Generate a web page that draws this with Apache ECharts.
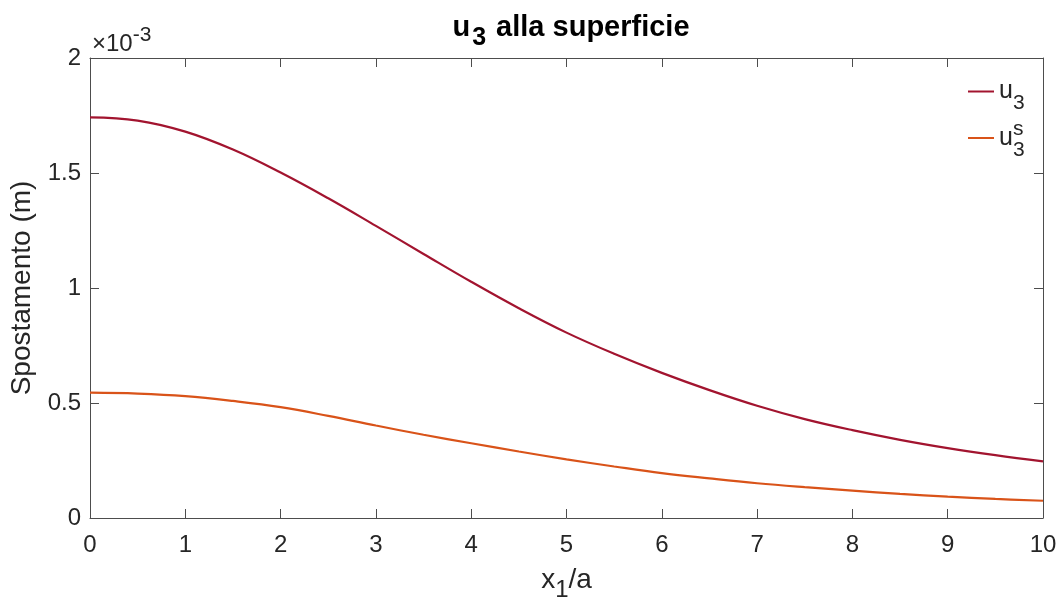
<!DOCTYPE html>
<html>
<head>
<meta charset="utf-8">
<script src="https://cdn.jsdelivr.net/npm/echarts@6/dist/echarts.min.js"></script>
<style>html,body{margin:0;padding:0;background:#fff;}#c{width:1061px;height:605px;}</style>
</head>
<body>
<div id="c"></div>
<script>
// x positions (x1/a)
var xVals = [0,0.5,1,1.5,2,2.5,3,3.5,4,4.5,5,5.5,6,6.5,7,7.5,8,8.5,9,9.5,10];
// u3 (m)
var u3 = [1.742e-3,1.728e-3,1.680e-3,1.602e-3,1.502e-3,1.390e-3,1.270e-3,1.148e-3,1.027e-3,0.912e-3,0.806e-3,0.714e-3,0.631e-3,0.556e-3,0.488e-3,0.430e-3,0.382e-3,0.340e-3,0.304e-3,0.273e-3,0.246e-3];
// u3^s (m)
var u3s = [0.545e-3,0.541e-3,0.530e-3,0.509e-3,0.482e-3,0.444e-3,0.402e-3,0.362e-3,0.325e-3,0.289e-3,0.255e-3,0.224e-3,0.195e-3,0.172e-3,0.151e-3,0.134e-3,0.119e-3,0.105e-3,0.093e-3,0.083e-3,0.075e-3];
var xTicks = [0,1,2,3,4,5,6,7,8,9,10];
var yTicks = [0,0.5e-3,1e-3,1.5e-3,2e-3];

function pairs(xs, ys){ return xs.map(function(x,i){ return [x, ys[i]]; }); }

var FONT = 'Liberation Sans, Arial, Helvetica, sans-serif';
var TXT = '#262626';
var AX = '#4d4d4d';

var chart = echarts.init(document.getElementById('c'), null, {renderer:'canvas'});
var axisCommon = {
  axisLine:{show:true, onZero:false, lineStyle:{color:AX, width:1}},
  axisTick:{show:true, inside:true, length:9, lineStyle:{color:AX, width:1}},
  splitLine:{show:false}
};
chart.setOption({
  animation:false,
  backgroundColor:'#fff',
  title:{
    text:'{u|u}{sub|3}{t| alla superficie}',
    left:566, top:-1, textAlign:'center',
    textStyle:{
      fontFamily:FONT, fontWeight:'bold', color:'#000',
      rich:{
        u:{fontFamily:FONT, fontWeight:'bold', fontSize:29, color:'#000'},
        t:{fontFamily:FONT, fontWeight:'bold', fontSize:29, color:'#000'},
        sub:{fontFamily:FONT, fontWeight:'bold', fontSize:25, color:'#000', padding:[22,2,0,2]}
      }
    }
  },
  grid:{left:90, right:18, top:58, bottom:87, containLabel:false, outerBoundsMode:'none'},
  legend:{
    orient:'vertical', left:968, top:79, padding:0, itemWidth:26, itemHeight:2, itemGap:5, icon:'rect',
    textStyle:{
      fontFamily:FONT, color:TXT,
      rich:{
        u:{fontFamily:FONT, fontSize:25, color:TXT},
        sub:{fontFamily:FONT, fontSize:21, color:TXT, padding:[24,0,0,0]},
        sup:{fontFamily:FONT, fontSize:21, color:TXT, width:0.01, padding:[0,0,17,0]}
      }
    },
    formatter:function(n){
      if(n==='u3') return '{u|u}{sub|3}';
      return '{u|u}{sup|s}{sub|3}';
    },
    data:['u3','u3s']
  },
  xAxis:[
    Object.assign({
      type:'value', min:0, max:10, interval:1, position:'bottom',
      name:'{t|x}{sub|1}{t|/a}', nameLocation:'middle', nameGap:40,
      nameTextStyle:{rich:{
        t:{fontFamily:FONT, fontSize:28, color:TXT},
        sub:{fontFamily:FONT, fontSize:24, color:TXT, padding:[20,0,0,0]}
      }},
      axisLabel:{fontFamily:FONT, fontSize:24, color:TXT, margin:15}
    }, axisCommon),
    Object.assign({
      type:'value', min:0, max:10, interval:1, position:'top',
      axisLabel:{show:false}
    }, axisCommon)
  ],
  yAxis:[
    Object.assign({
      type:'value', min:0, max:2e-3, interval:0.5e-3, position:'left',
      name:'Spostamento (m)', nameLocation:'middle', nameGap:50,
      nameTextStyle:{fontFamily:FONT, fontSize:28, color:TXT},
      axisLabel:{fontFamily:FONT, fontSize:24, color:TXT, margin:9,
        formatter:function(v){ return String(Math.round(v*1e4)/10); }}
    }, axisCommon),
    Object.assign({
      type:'value', min:0, max:2e-3, interval:0.5e-3, position:'right',
      axisLabel:{show:false}
    }, axisCommon)
  ],
  graphic:[{
    type:'text', left:92, top:25,
    style:{
      text:'{x|×10}{e|-3}',
      rich:{
        x:{fontFamily:FONT, fontSize:24, fill:TXT},
        e:{fontFamily:FONT, fontSize:21, fill:TXT, padding:[0,0,18,0]}
      }
    }
  }],
  series:[
    {name:'u3', type:'line', xAxisIndex:0, yAxisIndex:0, data:pairs(xVals,u3), smooth:0.4, symbol:'none',
     lineStyle:{color:'#A2142F', width:2.2}, itemStyle:{color:'#A2142F'}},
    {name:'u3s', type:'line', xAxisIndex:0, yAxisIndex:0, data:pairs(xVals,u3s), smooth:0.4, symbol:'none',
     lineStyle:{color:'#D95319', width:2.2}, itemStyle:{color:'#D95319'}}
  ]
});
</script>
</body>
</html>
